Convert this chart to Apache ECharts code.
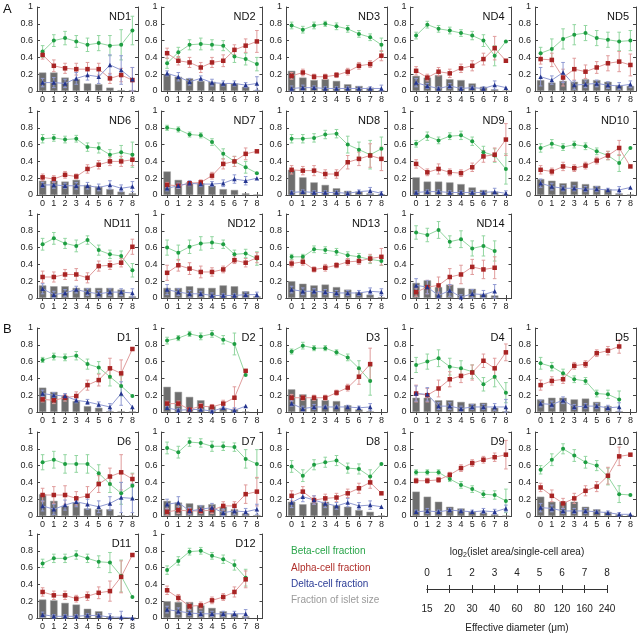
<!DOCTYPE html>
<html>
<head>
<meta charset="utf-8">
<script src="https://cdn.jsdelivr.net/npm/echarts@6/dist/echarts.min.js"></script>
<style>
  html, body { margin: 0; padding: 0; background: #fff; }
  #main { width: 640px; height: 636px; }
</style>
</head>
<body>
<div id="main"></div>
<script>
// islet size bins (log2 of area in single-cell units)
const xTicks = ['0', '1', '2', '3', '4', '5', '6', '7', '8'];
const diamTicks = ['15', '20', '30', '40', '60', '80', '120', '160', '240'];

const panelNames = ['ND1', 'ND2', 'ND3', 'ND4', 'ND5', 'ND6', 'ND7', 'ND8', 'ND9', 'ND10', 'ND11', 'ND12', 'ND13', 'ND14',
  'D1', 'D2', 'D3', 'D4', 'D5', 'D6', 'D7', 'D8', 'D9', 'D10', 'D11', 'D12'];

// fraction of islet size (gray bars)
const sizeFrac = [
  [0.22, 0.22, 0.16, 0.14, 0.09, 0.08, 0.04, 0.01, 0.01],
  [0.20, 0.17, 0.15, 0.12, 0.11, 0.09, 0.09, 0.05, 0.01],
  [0.24, 0.16, 0.13, 0.14, 0.12, 0.08, 0.06, 0.04, 0.005],
  [0.18, 0.16, 0.19, 0.14, 0.13, 0.09, 0.05, 0.02, 0.005],
  [0.13, 0.10, 0.12, 0.11, 0.14, 0.13, 0.11, 0.07, 0.06],
  [0.17, 0.17, 0.16, 0.18, 0.12, 0.10, 0.07, 0.04, 0.02],
  [0.28, 0.18, 0.15, 0.14, 0.11, 0.07, 0.06, 0.02, 0.005],
  [0.30, 0.21, 0.15, 0.12, 0.08, 0.05, 0.04, 0.02, 0.01],
  [0.21, 0.16, 0.16, 0.15, 0.13, 0.09, 0.06, 0.04, 0.005],
  [0.19, 0.17, 0.14, 0.16, 0.13, 0.11, 0.07, 0.02, 0.005],
  [0.15, 0.14, 0.14, 0.12, 0.12, 0.12, 0.12, 0.10, 0.02],
  [0.12, 0.12, 0.14, 0.12, 0.12, 0.15, 0.14, 0.08, 0.02],
  [0.20, 0.17, 0.15, 0.16, 0.13, 0.10, 0.07, 0.04, 0.01],
  [0.18, 0.21, 0.13, 0.16, 0.12, 0.11, 0.05, 0.03, null],
  [0.29, 0.24, 0.19, 0.13, 0.07, 0.05, 0.01, 0.01, 0.005],
  [0.30, 0.24, 0.18, 0.14, 0.07, 0.05, 0.03, 0.005, null],
  [0.27, 0.21, 0.16, 0.14, 0.13, 0.08, 0.03, 0.01, null],
  [0.17, 0.17, 0.14, 0.14, 0.12, 0.10, 0.11, 0.05, 0.01],
  [0.15, 0.17, 0.17, 0.15, 0.16, 0.12, 0.07, 0.01, null],
  [0.26, 0.18, 0.12, 0.16, 0.09, 0.08, 0.08, 0.01, 0.005],
  [0.18, 0.16, 0.15, 0.13, 0.14, 0.11, 0.08, 0.03, 0.01],
  [0.17, 0.14, 0.16, 0.17, 0.13, 0.11, 0.07, 0.05, 0.005],
  [0.29, 0.23, 0.17, 0.11, 0.09, 0.05, 0.04, 0.02, 0.005],
  [0.23, 0.17, 0.17, 0.17, 0.11, 0.08, 0.05, 0.02, 0.01],
  [0.22, 0.21, 0.18, 0.16, 0.11, 0.08, 0.02, 0.01, 0.005],
  [0.20, 0.19, 0.19, 0.15, 0.12, 0.08, 0.05, 0.02, null]
];

// beta-cell fraction
const betaFrac = [
  [0.47, 0.60, 0.63, 0.59, 0.55, 0.57, 0.54, 0.55, 0.72],
  [0.33, 0.46, 0.55, 0.56, 0.55, 0.54, 0.41, 0.38, 0.32],
  [0.78, 0.73, 0.78, 0.80, 0.77, 0.74, 0.68, 0.64, 0.55],
  [0.66, 0.79, 0.74, 0.72, 0.69, 0.66, 0.60, 0.42, 0.59],
  [0.45, 0.50, 0.62, 0.67, 0.69, 0.63, 0.61, 0.59, 0.60],
  [0.67, 0.68, 0.66, 0.67, 0.57, 0.56, 0.48, 0.51, 0.48],
  [0.80, 0.78, 0.72, 0.71, 0.63, 0.49, 0.40, 0.33, 0.26],
  [0.67, 0.67, 0.68, 0.72, 0.73, 0.60, 0.54, 0.48, 0.55],
  [0.61, 0.70, 0.65, 0.70, 0.71, 0.64, 0.51, 0.47, 0.31],
  [0.56, 0.61, 0.57, 0.60, 0.58, 0.52, 0.47, 0.38, 0.56],
  [0.64, 0.71, 0.65, 0.62, 0.69, 0.57, 0.52, 0.50, 0.33],
  [0.60, 0.54, 0.61, 0.65, 0.66, 0.64, 0.52, 0.53, 0.47],
  [0.49, 0.49, 0.58, 0.57, 0.55, 0.51, 0.49, 0.46, 0.44],
  [0.78, 0.75, 0.81, 0.67, 0.70, 0.59, 0.62, 0.56, null],
  [0.62, 0.66, 0.65, 0.67, 0.57, 0.53, 0.42, 0.31, 0.19],
  [0.85, 0.88, 0.93, 0.90, 0.93, 0.86, 0.81, 0.44, null],
  [0.72, 0.79, 0.76, 0.76, 0.71, 0.65, 0.52, 0.37, null],
  [0.56, 0.60, 0.64, 0.54, 0.52, 0.48, 0.33, 0.42, 0.23],
  [0.58, 0.54, 0.46, 0.39, 0.37, 0.22, 0.21, 0.15, null],
  [0.64, 0.67, 0.62, 0.62, 0.62, 0.51, 0.38, 0.27, 0.36],
  [0.81, 0.76, 0.88, 0.87, 0.83, 0.83, 0.82, 0.68, 0.62],
  [0.59, 0.48, 0.61, 0.64, 0.66, 0.57, 0.56, 0.47, 0.62],
  [0.52, 0.52, 0.52, 0.44, 0.37, 0.32, 0.26, 0.25, 0.18],
  [0.55, 0.67, 0.80, 0.72, 0.64, 0.60, 0.47, 0.26, 0.25],
  [0.65, 0.71, 0.71, 0.75, 0.71, 0.67, 0.66, 0.50, 0.25],
  [0.57, 0.68, 0.79, 0.80, 0.74, 0.70, 0.63, 0.48, null]
];
const betaErr = [
  [0.07, 0.07, 0.08, 0.07, 0.08, 0.09, 0.12, 0.18, 0.17],
  [0.06, 0.06, 0.06, 0.07, 0.06, 0.06, 0.07, 0.07, 0.08],
  [0.04, 0.04, 0.04, 0.03, 0.04, 0.04, 0.04, 0.04, 0.08],
  [0.04, 0.04, 0.04, 0.04, 0.04, 0.05, 0.07, 0.12, 0],
  [0.07, 0.12, 0.12, 0.12, 0.09, 0.09, 0.09, 0.11, 0.12],
  [0.05, 0.04, 0.04, 0.04, 0.05, 0.06, 0.06, 0.08, 0.15],
  [0.03, 0.03, 0.03, 0.03, 0.04, 0.06, 0.06, 0.07, 0],
  [0.05, 0.05, 0.05, 0.05, 0.05, 0.10, 0.09, 0.17, 0.14],
  [0.04, 0.05, 0.04, 0.04, 0.05, 0.05, 0.07, 0.08, 0.18],
  [0.05, 0.05, 0.04, 0.04, 0.04, 0.04, 0.05, 0.10, 0],
  [0.07, 0.07, 0.06, 0.07, 0.05, 0.06, 0.05, 0.06, 0.08],
  [0.09, 0.09, 0.08, 0.08, 0.07, 0.05, 0.05, 0.05, 0.08],
  [0.03, 0.03, 0.04, 0.04, 0.04, 0.04, 0.04, 0.05, 0.05],
  [0.08, 0.08, 0.10, 0.07, 0.10, 0.09, 0.12, 0.12, 0],
  [0.03, 0.04, 0.04, 0.05, 0.06, 0.07, 0.11, 0.12, 0],
  [0.04, 0.03, 0.03, 0.04, 0.04, 0.05, 0.13, 0, 0],
  [0.03, 0.04, 0.03, 0.03, 0.03, 0.04, 0.09, 0.17, 0],
  [0.09, 0.09, 0.10, 0.10, 0.09, 0.08, 0.08, 0.12, 0.12],
  [0.07, 0.05, 0.05, 0.04, 0.04, 0.04, 0.05, 0.10, 0],
  [0.09, 0.10, 0.11, 0.10, 0.11, 0.10, 0.10, 0.13, 0.15],
  [0.07, 0.07, 0.05, 0.05, 0.06, 0.05, 0.05, 0.11, 0.17],
  [0.07, 0.07, 0.06, 0.06, 0.06, 0.06, 0.06, 0.08, 0],
  [0.03, 0.03, 0.03, 0.03, 0.04, 0.04, 0.04, 0.05, 0.14],
  [0.05, 0.07, 0.06, 0.07, 0.07, 0.06, 0.10, 0.10, 0],
  [0.05, 0.05, 0.05, 0.05, 0.05, 0.07, 0.12, 0.19, 0],
  [0.05, 0.05, 0.04, 0.04, 0.04, 0.05, 0.06, 0.10, 0]
];

// alpha-cell fraction
const alphaFrac = [
  [0.43, 0.30, 0.27, 0.26, 0.26, 0.26, 0.15, 0.19, 0.13],
  [0.45, 0.36, 0.34, 0.28, 0.34, 0.36, 0.49, 0.54, 0.59],
  [0.18, 0.22, 0.17, 0.17, 0.19, 0.23, 0.30, 0.32, 0.42],
  [0.24, 0.16, 0.23, 0.21, 0.27, 0.30, 0.38, 0.51, 0.36],
  [0.38, 0.37, 0.16, 0.26, 0.23, 0.28, 0.33, 0.35, 0.31],
  [0.21, 0.19, 0.24, 0.22, 0.31, 0.36, 0.40, 0.40, 0.42],
  [0.12, 0.11, 0.14, 0.15, 0.23, 0.37, 0.40, 0.49, 0.52],
  [0.30, 0.29, 0.29, 0.25, 0.25, 0.39, 0.43, 0.47, 0.43],
  [0.37, 0.27, 0.31, 0.27, 0.26, 0.33, 0.46, 0.48, 0.66],
  [0.30, 0.28, 0.34, 0.32, 0.35, 0.41, 0.47, 0.56, 0.34],
  [0.25, 0.25, 0.28, 0.28, 0.24, 0.38, 0.39, 0.42, 0.61],
  [0.30, 0.39, 0.35, 0.31, 0.31, 0.34, 0.45, 0.42, 0.48],
  [0.41, 0.43, 0.34, 0.36, 0.39, 0.43, 0.44, 0.47, 0.49],
  [0.07, 0.13, 0.15, 0.25, 0.28, 0.37, 0.34, 0.36, null],
  [0.15, 0.14, 0.17, 0.19, 0.32, 0.38, 0.52, 0.46, 0.75],
  [0.10, 0.10, 0.03, 0.07, 0.06, 0.10, 0.17, 0.49, null],
  [0.17, 0.17, 0.17, 0.17, 0.23, 0.29, 0.42, 0.57, null],
  [0.22, 0.20, 0.28, 0.39, 0.43, 0.47, 0.61, 0.52, 0.71],
  [0.32, 0.37, 0.39, 0.55, 0.57, 0.70, 0.73, 0.78, null],
  [0.25, 0.25, 0.25, 0.21, 0.24, 0.38, 0.47, 0.52, 0.44],
  [0.05, 0.07, 0.06, 0.06, 0.07, 0.12, 0.12, 0.26, 0.29],
  [0.24, 0.29, 0.19, 0.21, 0.22, 0.27, 0.33, 0.40, 0.27],
  [0.42, 0.42, 0.43, 0.49, 0.57, 0.63, 0.67, 0.70, 0.73],
  [0.34, 0.24, 0.15, 0.21, 0.30, 0.35, 0.48, 0.71, 0.73],
  [0.31, 0.27, 0.27, 0.23, 0.26, 0.30, 0.32, 0.49, 0.75],
  [0.33, 0.24, 0.14, 0.15, 0.21, 0.25, 0.31, 0.46, null]
];
const alphaErr = [
  [0.05, 0.07, 0.06, 0.07, 0.08, 0.07, 0.06, 0.08, 0.15],
  [0.06, 0.05, 0.06, 0.06, 0.06, 0.07, 0.06, 0.08, 0.13],
  [0.04, 0.04, 0.03, 0.03, 0.03, 0.04, 0.04, 0.04, 0.06],
  [0.05, 0.04, 0.05, 0.05, 0.05, 0.06, 0.07, 0.14, 0],
  [0.06, 0.08, 0.10, 0.13, 0.08, 0.07, 0.09, 0.12, 0.13],
  [0.04, 0.04, 0.04, 0.03, 0.05, 0.05, 0.05, 0.06, 0.07],
  [0.03, 0.03, 0.02, 0.03, 0.04, 0.06, 0.06, 0.07, 0],
  [0.05, 0.05, 0.06, 0.05, 0.05, 0.08, 0.08, 0.14, 0.14],
  [0.05, 0.04, 0.06, 0.04, 0.04, 0.05, 0.07, 0.08, 0.19],
  [0.05, 0.04, 0.05, 0.04, 0.04, 0.04, 0.05, 0.09, 0],
  [0.07, 0.06, 0.06, 0.07, 0.06, 0.06, 0.05, 0.05, 0.09],
  [0.09, 0.07, 0.07, 0.07, 0.05, 0.04, 0.04, 0.05, 0.06],
  [0.04, 0.04, 0.03, 0.04, 0.03, 0.04, 0.04, 0.05, 0.10],
  [0.05, 0.08, 0.10, 0.10, 0.11, 0.09, 0.11, 0.13, 0],
  [0.03, 0.04, 0.04, 0.05, 0.06, 0.07, 0.12, 0.16, 0],
  [0.03, 0.03, 0.02, 0.03, 0.03, 0.04, 0.13, 0, 0],
  [0.04, 0.03, 0.03, 0.03, 0.03, 0.04, 0.09, 0.19, 0],
  [0.10, 0.08, 0.10, 0.09, 0.08, 0.09, 0.08, 0.12, 0.10],
  [0.06, 0.05, 0.05, 0.04, 0.04, 0.04, 0.05, 0.08, 0],
  [0.08, 0.10, 0.11, 0.08, 0.11, 0.10, 0.10, 0.21, 0.06],
  [0.04, 0.04, 0.03, 0.03, 0.04, 0.05, 0.05, 0.11, 0.17],
  [0.06, 0.06, 0.05, 0.05, 0.05, 0.05, 0.06, 0.07, 0],
  [0.03, 0.03, 0.03, 0.03, 0.04, 0.04, 0.04, 0.05, 0.17],
  [0.05, 0.07, 0.06, 0.06, 0.06, 0.06, 0.10, 0.11, 0],
  [0.05, 0.05, 0.05, 0.04, 0.05, 0.07, 0.12, 0.19, 0],
  [0.05, 0.04, 0.04, 0.04, 0.04, 0.04, 0.06, 0.10, 0]
];

// delta-cell fraction
const deltaFrac = [
  [0.10, 0.10, 0.09, 0.15, 0.19, 0.17, 0.31, 0.25, 0.14],
  [0.21, 0.17, 0.11, 0.15, 0.10, 0.09, 0.09, 0.07, 0.09],
  [0.03, 0.04, 0.04, 0.03, 0.03, 0.03, 0.03, 0.03, 0.03],
  [0.10, 0.06, 0.03, 0.06, 0.03, 0.04, 0.03, 0.07, 0.04],
  [0.17, 0.13, 0.22, 0.07, 0.08, 0.09, 0.07, 0.06, 0.08],
  [0.12, 0.12, 0.11, 0.11, 0.11, 0.09, 0.12, 0.08, 0.10],
  [0.08, 0.11, 0.14, 0.13, 0.13, 0.14, 0.19, 0.17, 0.20],
  [0.03, 0.04, 0.03, 0.03, 0.03, 0.02, 0.04, 0.05, 0.02],
  [0.03, 0.04, 0.04, 0.03, 0.03, 0.03, 0.03, 0.04, 0.02],
  [0.14, 0.10, 0.08, 0.08, 0.07, 0.07, 0.06, 0.06, 0.09],
  [0.11, 0.04, 0.06, 0.10, 0.07, 0.05, 0.07, 0.07, 0.06],
  [0.10, 0.07, 0.05, 0.05, 0.03, 0.03, 0.03, 0.04, 0.04],
  [0.10, 0.08, 0.08, 0.07, 0.06, 0.06, 0.06, 0.08, 0.07],
  [0.15, 0.13, 0.03, 0.09, 0.01, 0.05, 0.04, 0.08, null],
  [0.22, 0.20, 0.19, 0.14, 0.12, 0.09, 0.06, 0.22, 0.06],
  [0.05, 0.02, 0.03, 0.03, 0.01, 0.05, 0.02, 0.07, null],
  [0.10, 0.04, 0.06, 0.06, 0.06, 0.06, 0.05, 0.06, null],
  [0.22, 0.21, 0.07, 0.07, 0.04, 0.06, 0.06, 0.06, 0.06],
  [0.10, 0.09, 0.14, 0.06, 0.07, 0.07, 0.05, 0.06, null],
  [0.12, 0.08, 0.13, 0.17, 0.14, 0.11, 0.15, 0.22, 0.21],
  [0.14, 0.16, 0.06, 0.08, 0.10, 0.04, 0.06, 0.05, 0.08],
  [0.16, 0.23, 0.19, 0.15, 0.12, 0.16, 0.12, 0.13, 0.11],
  [0.05, 0.06, 0.05, 0.07, 0.06, 0.05, 0.06, 0.05, 0.09],
  [0.10, 0.09, 0.06, 0.06, 0.06, 0.05, 0.04, 0.02, 0.02],
  [0.04, 0.02, 0.02, 0.02, 0.03, 0.03, 0.01, 0.01, 0.00],
  [0.10, 0.08, 0.06, 0.05, 0.05, 0.05, 0.05, 0.05, null]
];
const deltaErr = [
  [0.05, 0.06, 0.05, 0.07, 0.06, 0.08, 0.12, 0.17, 0.14],
  [0.03, 0.05, 0.04, 0.03, 0.04, 0.03, 0.03, 0.03, 0.08],
  [0.03, 0.03, 0.02, 0.02, 0.02, 0.02, 0.02, 0.02, 0.04],
  [0.05, 0.03, 0.02, 0.03, 0.02, 0.02, 0.02, 0.05, 0],
  [0.11, 0.05, 0.12, 0.05, 0.04, 0.04, 0.04, 0.04, 0.04],
  [0.03, 0.04, 0.03, 0.04, 0.04, 0.04, 0.05, 0.04, 0.06],
  [0.03, 0.03, 0.03, 0.03, 0.03, 0.04, 0.05, 0.05, 0],
  [0.02, 0.02, 0.02, 0.02, 0.02, 0.02, 0.02, 0.04, 0.02],
  [0.02, 0.02, 0.02, 0.02, 0.02, 0.02, 0.02, 0.04, 0.03],
  [0.05, 0.04, 0.03, 0.03, 0.03, 0.03, 0.02, 0.04, 0],
  [0.06, 0.04, 0.04, 0.04, 0.04, 0.04, 0.04, 0.04, 0.05],
  [0.06, 0.04, 0.04, 0.03, 0.03, 0.02, 0.02, 0.03, 0.03],
  [0.04, 0.04, 0.03, 0.03, 0.03, 0.03, 0.03, 0.04, 0.04],
  [0.08, 0.08, 0.04, 0.07, 0.03, 0.05, 0.05, 0.08, 0],
  [0.04, 0.03, 0.03, 0.03, 0.03, 0.03, 0.04, 0.14, 0],
  [0.02, 0.02, 0.02, 0.02, 0.01, 0.02, 0.03, 0, 0],
  [0.03, 0.03, 0.03, 0.02, 0.02, 0.02, 0.02, 0.04, 0],
  [0.09, 0.08, 0.04, 0.04, 0.03, 0.03, 0.03, 0.04, 0.09],
  [0.04, 0.04, 0.04, 0.03, 0.03, 0.03, 0.03, 0.05, 0],
  [0.06, 0.06, 0.06, 0.06, 0.06, 0.07, 0.08, 0.18, 0.17],
  [0.06, 0.07, 0.04, 0.04, 0.05, 0.04, 0.04, 0.04, 0.06],
  [0.06, 0.06, 0.05, 0.05, 0.04, 0.05, 0.04, 0.05, 0],
  [0.02, 0.03, 0.02, 0.02, 0.02, 0.02, 0.03, 0.03, 0.04],
  [0.05, 0.04, 0.03, 0.03, 0.03, 0.02, 0.02, 0.02, 0],
  [0.03, 0.02, 0.02, 0.02, 0.02, 0.02, 0.04, 0.07, 0],
  [0.04, 0.04, 0.03, 0.03, 0.03, 0.03, 0.03, 0.05, 0]
];

const chart = echarts.init(document.getElementById('main'));

const FONT = 'Liberation Sans, Arial, sans-serif';
const axisCol = '#444';
const colBeta = '#1e9e42', colBetaL = '#92d6a0';
const colAlpha = '#a82424', colAlphaL = '#e09c9c';
const colDelta = '#24358f', colDeltaL = '#909ad2';

const colLeft = [37, 161.5, 286, 410.5, 535];
const rowTop = [7, 111, 214, 328, 432, 534];
const plotW = 101, plotH = 84;

function slot(i) {
  if (i < 14) return { r: Math.floor(i / 5), c: i % 5 };
  const j = i - 14;
  return { r: 3 + Math.floor(j / 5), c: j % 5 };
}

function errRender(color) {
  return function (params, api) {
    const hi = api.coord([api.value(0), api.value(2)]);
    const lo = api.coord([api.value(0), api.value(1)]);
    const c = 1.8;
    const st = { stroke: color, lineWidth: 1 };
    return {
      type: 'group',
      children: [
        { type: 'line', shape: { x1: hi[0], y1: hi[1], x2: lo[0], y2: lo[1] }, style: st },
        { type: 'line', shape: { x1: hi[0] - c, y1: hi[1], x2: hi[0] + c, y2: hi[1] }, style: st },
        { type: 'line', shape: { x1: lo[0] - c, y1: lo[1], x2: lo[0] + c, y2: lo[1] }, style: st }
      ]
    };
  };
}

function errData(vals, errs) {
  const out = [];
  vals.forEach(function (v, i) {
    if (v == null || !errs[i]) return;
    out.push([i, Math.max(0, v - errs[i]), Math.min(1, v + errs[i])]);
  });
  return out;
}

const grids = [], xAxes = [], yAxes = [], series = [], titles = [];

panelNames.forEach(function (name, k) {
  const s = slot(k);
  const left = colLeft[s.c], top = rowTop[s.r];
  grids.push({ left: left, top: top, width: plotW, height: plotH });

  const tickStyle = { show: true, inside: true, length: 3, alignWithLabel: true, interval: 0, lineStyle: { color: axisCol } };
  xAxes.push({
    gridIndex: k, type: 'category', data: xTicks, position: 'bottom',
    axisLine: { lineStyle: { color: axisCol, width: 1 } },
    axisTick: tickStyle,
    axisLabel: { interval: 0, fontSize: 9, color: '#222', margin: 4, fontFamily: FONT }
  });
  xAxes.push({
    gridIndex: k, type: 'category', data: xTicks, position: 'top',
    axisLine: { lineStyle: { color: axisCol, width: 1 } },
    axisTick: tickStyle, axisLabel: { show: false }
  });
  yAxes.push({
    gridIndex: k, type: 'value', min: 0, max: 1, interval: 0.2, position: 'left',
    axisLine: { show: true, lineStyle: { color: axisCol, width: 1 } },
    axisTick: { show: true, inside: true, length: 3, lineStyle: { color: axisCol } },
    splitLine: { show: false },
    axisLabel: { fontSize: 9, color: '#222', margin: 4, fontFamily: FONT }
  });
  yAxes.push({
    gridIndex: k, type: 'value', min: 0, max: 1, interval: 0.2, position: 'right',
    axisLine: { show: true, lineStyle: { color: axisCol, width: 1 } },
    axisTick: { show: true, inside: true, length: 3, lineStyle: { color: axisCol } },
    splitLine: { show: false }, axisLabel: { show: false }
  });

  const xi = 2 * k, yi = 2 * k;
  series.push({
    type: 'bar', xAxisIndex: xi, yAxisIndex: yi, data: sizeFrac[k], barWidth: '66%',
    itemStyle: { color: '#6e6e6e', borderColor: '#a0a0a0', borderWidth: 0.5 }, silent: true, z: 1
  });

  const groups = [
    { v: betaFrac[k], e: betaErr[k], c: colBeta, l: colBetaL, sym: 'circle', size: 4 },
    { v: alphaFrac[k], e: alphaErr[k], c: colAlpha, l: colAlphaL, sym: 'rect', size: 4.5 },
    { v: deltaFrac[k], e: deltaErr[k], c: colDelta, l: colDeltaL, sym: 'triangle', size: 4.5 }
  ];
  groups.forEach(function (g) {
    series.push({
      type: 'custom', xAxisIndex: xi, yAxisIndex: yi, data: errData(g.v, g.e),
      renderItem: errRender(g.l), silent: true, z: 2
    });
  });
  groups.forEach(function (g) {
    series.push({
      type: 'line', xAxisIndex: xi, yAxisIndex: yi, data: g.v,
      symbol: g.sym, symbolSize: g.size, showSymbol: true, connectNulls: false,
      lineStyle: { color: g.l, width: 1 }, itemStyle: { color: g.c },
      silent: true, animation: false, z: 3
    });
  });

  titles.push({
    text: name, right: 640 - (left + plotW) + 7, top: top + 4, padding: 0,
    textStyle: { fontSize: 11, fontWeight: 'normal', color: '#111', fontFamily: FONT }
  });
});

titles.push({ text: 'A', left: 3, top: 3, padding: 0, textStyle: { fontSize: 13, fontWeight: 'normal', color: '#111', fontFamily: FONT } });
titles.push({ text: 'B', left: 3, top: 323, padding: 0, textStyle: { fontSize: 13, fontWeight: 'normal', color: '#111', fontFamily: FONT } });

// scale bar: log2 bins above, effective diameter below
const sg = grids.length;
grids.push({ left: 427, top: 588, width: 180, height: 1 });
xAxes.push({
  gridIndex: sg, type: 'value', min: 0, max: 8, interval: 1, position: 'top',
  axisLine: { lineStyle: { color: '#333', width: 1 } },
  axisTick: { inside: true, length: 4, lineStyle: { color: '#333' } },
  splitLine: { show: false },
  axisLabel: { fontSize: 10, color: '#222', margin: 10, fontFamily: FONT, formatter: function (v) { return xTicks[v]; } },
  name: 'log{s|2}(islet area/single-cell area)', nameLocation: 'middle', nameGap: 29,
  nameTextStyle: { fontSize: 10, color: '#222', fontFamily: FONT, rich: { s: { fontSize: 7, verticalAlign: 'bottom', padding: [6, 0, 0, 0], fontFamily: FONT } } }
});
xAxes.push({
  gridIndex: sg, type: 'value', min: 0, max: 8, interval: 1, position: 'bottom',
  axisLine: { lineStyle: { color: '#333', width: 1 } },
  axisTick: { inside: true, length: 4, lineStyle: { color: '#333' } },
  splitLine: { show: false },
  axisLabel: { fontSize: 10, color: '#222', margin: 15, fontFamily: FONT, formatter: function (v) { return diamTicks[v]; } },
  name: 'Effective diameter (\u03bcm)', nameLocation: 'middle', nameGap: 34,
  nameTextStyle: { fontSize: 10, color: '#222', fontFamily: FONT }
});
yAxes.push({ gridIndex: sg, type: 'value', show: false, min: 0, max: 1 });

const legendItems = [
  { t: 'Beta-cell fraction', c: '#2aa54a' },
  { t: 'Alpha-cell fraction', c: '#b0302c' },
  { t: 'Delta-cell fraction', c: '#2b3c96' },
  { t: 'Fraction of islet size', c: '#9a9a9a' }
];
const graphics = legendItems.map(function (it, i) {
  return {
    type: 'text', left: 291, top: 546.5 + i * 16.4,
    style: { text: it.t, fill: it.c, fontSize: 10, fontFamily: FONT }
  };
});

chart.setOption({
  animation: false,
  backgroundColor: '#fff',
  title: titles,
  grid: grids,
  xAxis: xAxes,
  yAxis: yAxes,
  series: series,
  graphic: graphics
});
</script>
</body>
</html>
